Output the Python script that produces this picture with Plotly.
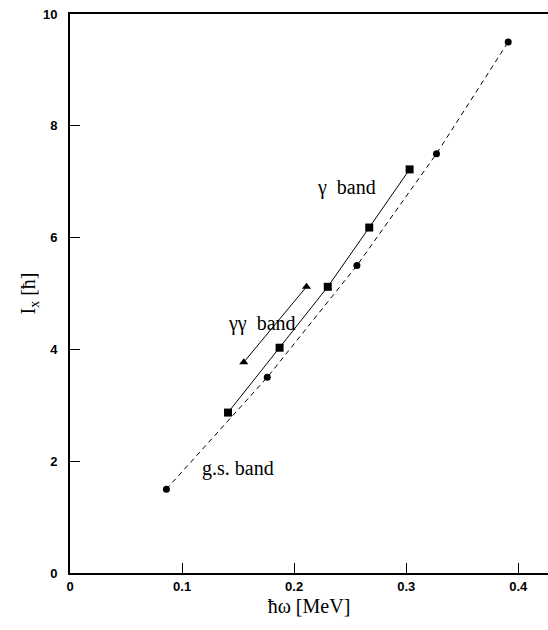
import plotly.graph_objects as go

# ground-state band (circles, dashed)
gs_x = [0.086, 0.176, 0.256, 0.327, 0.391]
gs_y = [1.5, 3.5, 5.5, 7.5, 9.5]
# gamma band (squares, solid)
g_x = [0.141, 0.187, 0.230, 0.267, 0.303]
g_y = [2.87, 4.03, 5.12, 6.18, 7.22]
# gamma-gamma band (triangles, solid)
gg_x = [0.155, 0.211]
gg_y = [3.77, 5.12]

x_ticks = [0, 0.1, 0.2, 0.3, 0.4]
x_ticklabels = ["0", "0.1", "0.2", "0.3", "0.4"]
y_ticks = [0, 2, 4, 6, 8, 10]
y_ticklabels = ["0", "2", "4", "6", "8", "10"]

fig = go.Figure()
fig.add_trace(go.Scatter(x=gs_x, y=gs_y, mode="lines+markers", name="g.s. band",
                         line=dict(color="black", width=1, dash="5px,4px"),
                         marker=dict(symbol="circle", size=7, color="black")))
fig.add_trace(go.Scatter(x=g_x, y=g_y, mode="lines+markers", name="γ band",
                         line=dict(color="black", width=1),
                         marker=dict(symbol="square", size=8, color="black")))
fig.add_trace(go.Scatter(x=gg_x, y=gg_y, mode="lines+markers", name="γγ band",
                         line=dict(color="black", width=1),
                         marker=dict(symbol="triangle-up", size=8, color="black")))

serif = "Liberation Serif, Times New Roman, serif"
sans = "Liberation Sans, Arial, sans-serif"

fig.add_annotation(x=0.2465, y=6.9, text="γ&nbsp;&nbsp;band", showarrow=False,
                   font=dict(family=serif, size=20, color="black"))
fig.add_annotation(x=0.1713, y=4.47, text="γγ&nbsp;&nbsp;band", showarrow=False,
                   font=dict(family=serif, size=20, color="black"))
fig.add_annotation(x=0.1495, y=1.87, text="g.s. band", showarrow=False,
                   font=dict(family=serif, size=20, color="black"))

fig.update_layout(
    width=548, height=630,
    margin=dict(l=70, r=0, t=14, b=57),
    paper_bgcolor="white", plot_bgcolor="white",
    showlegend=False,
    xaxis=dict(range=[0, 0.4265], tickvals=x_ticks, ticktext=x_ticklabels,
               ticks="inside", ticklen=10, tickwidth=1, tickcolor="black",
               showline=True, linecolor="black", linewidth=2, mirror=True,
               showgrid=False, zeroline=False,
               tickfont=dict(family=sans, size=13, color="black", weight="bold"),
               title=dict(text="ħω [MeV]", font=dict(family=serif, size=20, color="black"),
                          standoff=6)),
    yaxis=dict(range=[0, 10], tickvals=y_ticks, ticktext=y_ticklabels,
               ticks="inside", ticklen=10, tickwidth=1, tickcolor="black",
               showline=True, linecolor="black", linewidth=2, mirror=False,
               showgrid=False, zeroline=False,
               tickfont=dict(family=sans, size=13, color="black", weight="bold"),
               ticklabelstandoff=8,
               title=dict(text="I<sub>x</sub> [ħ]", font=dict(family=serif, size=20, color="black"),
                          standoff=2)),
)

fig.write_html("out.html", config={"displayModeBar": False},
               post_script="document.body.style.margin='0';document.body.style.overflow='hidden';")
